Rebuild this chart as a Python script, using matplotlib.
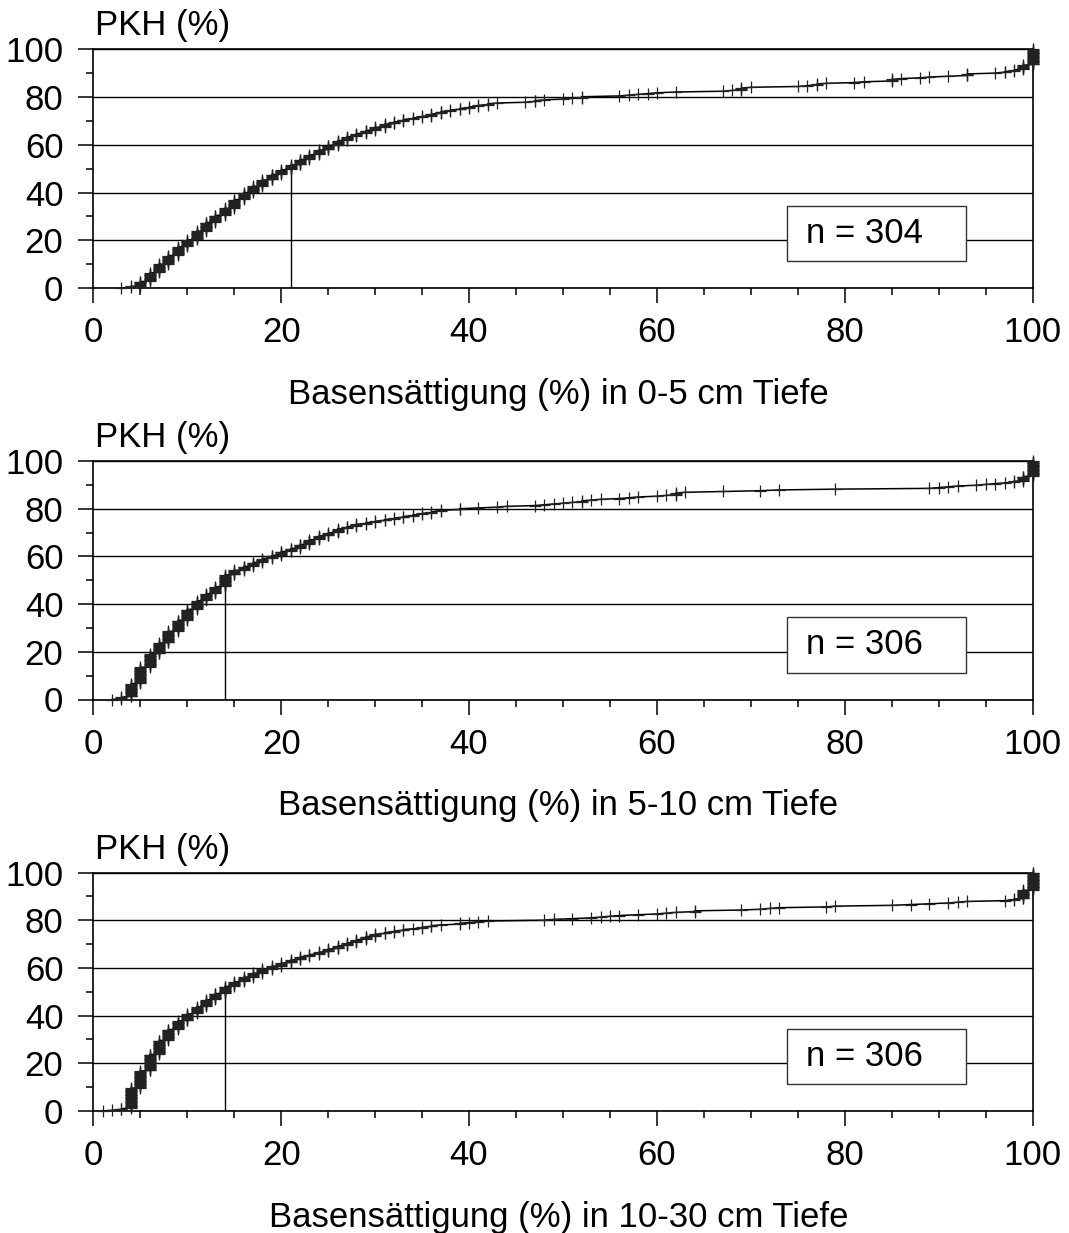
import numpy as np
import matplotlib.pyplot as plt
from matplotlib.patches import Rectangle
from matplotlib.ticker import MultipleLocator

plt.rcParams['font.family'] = ['Liberation Sans', 'DejaVu Sans']


# Basensaettigung (%) - distinct values and how often they occur

# 0-5 cm
bs_0_5 = [3, 4, 5, 6, 7, 8, 9, 10, 11, 12, 13, 14, 15, 16, 17, 18, 19, 20, 21,
          22, 23, 24, 25, 26, 27, 28, 29, 30, 31, 32, 33, 34, 35, 36, 37, 38, 39, 40, 41, 42,
          43, 46, 47, 48, 50, 51, 52, 56, 57, 58, 59, 60, 62,
          67, 68, 69, 70, 75, 76, 77, 78, 81, 82, 85, 86, 88, 89, 91, 93,
          96, 97, 98, 99, 100]
cnt_0_5 = [1, 2, 6, 11, 11, 11, 11, 9, 11, 11, 9, 9, 11, 9, 8, 8, 7, 6, 6,
           7, 6, 6, 6, 6, 5, 4, 4, 4, 4, 3, 3, 2, 2, 3, 3, 2, 2, 2, 2, 2,
           1, 1, 2, 1, 1, 1, 2, 1, 1, 1, 1, 1, 1,
           1, 1, 3, 1, 1, 1, 2, 1, 1, 1, 3, 1, 1, 1, 1, 3,
           1, 2, 2, 6, 20]

# 5-10 cm
bs_5_10 = [2, 3, 4, 5, 6, 7, 8, 9, 10, 11, 12, 13, 14,
           15, 16, 17, 18, 19, 20, 21, 22, 23, 24, 25, 26, 27, 28,
           29, 30, 31, 32, 33, 34, 35, 36, 37, 39,
           41, 43, 44, 47, 48, 49, 50, 51, 52, 53, 54, 56, 57, 58,
           60, 61, 62, 63, 67, 71, 73, 79, 89, 90, 91, 92, 94, 95, 96, 97,
           98, 99, 100]
cnt_5_10 = [1, 3, 17, 21, 17, 14, 15, 14, 14, 11, 9, 9, 15,
            6, 5, 5, 5, 4, 5, 4, 5, 6, 5, 4, 5, 3, 3,
            2, 2, 2, 2, 2, 2, 2, 2, 2, 2,
            1, 1, 1, 1, 1, 1, 1, 1, 2, 1, 1, 1, 1, 1,
            1, 1, 3, 1, 1, 1, 1, 1, 1, 1, 1, 1, 1, 1, 1, 1,
            2, 6, 20]

# 10-30 cm
bs_10_30 = [1, 2, 3, 4, 5, 6, 7, 8, 9, 10, 11, 12, 13, 14,
            15, 16, 17, 18, 19, 20, 21, 22, 23, 24, 25, 26, 27, 28, 29, 30,
            31, 32, 33, 34, 35, 36, 37, 39, 40, 41, 42,
            48, 49, 51, 53, 54, 55, 56, 58, 60, 61, 62, 64,
            69, 71, 72, 73, 78, 79, 85, 87, 89, 91, 92, 93, 97, 98,
            99, 100]
cnt_10_30 = [1, 1, 2, 26, 22, 21, 18, 14, 11, 9, 9, 9, 8, 9,
             6, 6, 5, 5, 4, 4, 4, 4, 3, 3, 4, 4, 4, 4, 4, 3,
             2, 2, 2, 1, 2, 2, 1, 2, 1, 1, 1,
             1, 1, 1, 1, 1, 1, 1, 1, 1, 1, 1, 2,
             1, 1, 1, 1, 1, 1, 1, 1, 1, 1, 1, 1, 1, 2,
             11, 23]

depths = ["0-5", "5-10", "10-30"]
n_labels = [304, 306, 306]

panels = [(bs_0_5, cnt_0_5), (bs_5_10, cnt_5_10), (bs_10_30, cnt_10_30)]

fig = plt.figure(figsize=(10.69, 12.33), dpi=100)

left = 93.3 / 1069
width = 939.4 / 1069
bottoms = [1 - 288 / 1233, 1 - 699.5 / 1233, 1 - 1111 / 1233]
height = 238.5 / 1233
fs = 25

for i in range(3):
    vals, cnts = panels[i]
    data = np.repeat(vals, cnts)
    n = len(data)
    cum = np.arange(n) / (n - 1) * 100
    med = np.median(data)

    ax = fig.add_axes([left, bottoms[i], width, height])
    ax.set_xlim(0, 100)
    ax.set_ylim(0, 100)

    ax.plot(data, cum, color='black', lw=1.1, marker='+', ms=8, mew=0.9,
            mec='#222222', clip_on=False, zorder=4)
    ax.plot([med, med], [0, 50], color='black', lw=1.0, zorder=3)

    ax.xaxis.set_major_locator(MultipleLocator(20))
    ax.xaxis.set_minor_locator(MultipleLocator(5))
    ax.yaxis.set_major_locator(MultipleLocator(20))
    ax.yaxis.set_minor_locator(MultipleLocator(10))
    ax.tick_params(which='major', direction='out', length=10.5, width=1.1, labelsize=fs)
    ax.tick_params(which='minor', direction='out', length=5, width=1.1)
    ax.tick_params(axis='x', which='major', pad=10)
    ax.tick_params(axis='y', which='major', pad=11)

    ax.yaxis.grid(True, which='major', color='black', lw=1.0)
    ax.set_axisbelow(True)
    for s in ax.spines.values():
        s.set_linewidth(1.2)

    # n box
    ax.add_patch(Rectangle((0.738, 0.113), 0.191, 0.232, transform=ax.transAxes,
                           facecolor='white', edgecolor='#333333', lw=1.0, zorder=3))
    ax.text(0.759, 0.229, "n = " + str(n_labels[i]), transform=ax.transAxes,
            fontsize=fs, ha='left', va='center', zorder=5)

    ax.text(0.002, 1 + 14 / 238.5, "PKH (%)", transform=ax.transAxes,
            fontsize=fs, ha='left', va='baseline')
    ax.text(0.495, -116 / 238.5, "Basensättigung (%) in " + depths[i] + " cm Tiefe",
            transform=ax.transAxes, fontsize=fs, ha='center', va='baseline')

fig.savefig("out.png", dpi=100)
